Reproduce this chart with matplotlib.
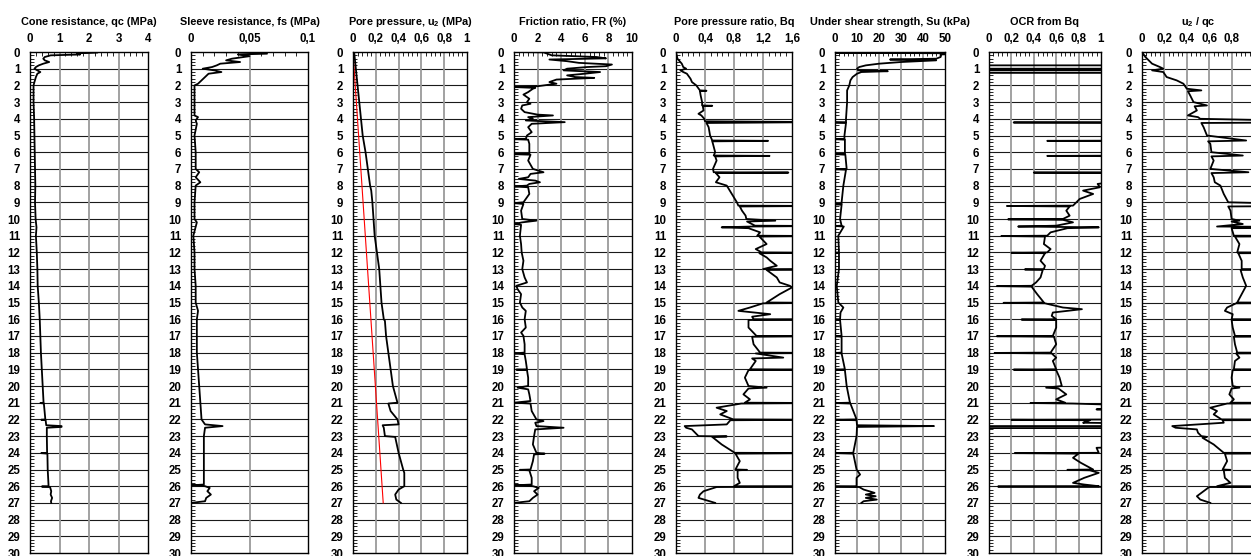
import matplotlib
matplotlib.use("Agg")
import matplotlib.pyplot as plt
from matplotlib.ticker import MultipleLocator, FuncFormatter, FixedLocator
import numpy as np

plt.rcParams['font.family'] = ['Liberation Sans', 'DejaVu Sans']
plt.rcParams['font.weight'] = 'bold'
plt.rcParams['mathtext.fontset'] = 'custom'
plt.rcParams['mathtext.rm'] = 'Liberation Sans:bold'
plt.rcParams['mathtext.bf'] = 'Liberation Sans:bold'

# ---------------- data: (depth m, value) ----------------
QC = [(0,0),(0.02,2.3),(0.08,1.6),(0.15,1.7),(0.2,0.7),(0.3,0.5),(0.4,0.45),(0.5,0.5),(0.6,0.65),
      (0.7,0.45),(0.8,0.3),(0.9,0.2),(1.0,0.15),(1.1,0.25),(1.2,0.35),(1.3,0.25),(1.5,0.2),(1.8,0.15),
      (2.0,0.12),(3.0,0.12),(4.0,0.14),(5.0,0.15),(6.0,0.16),(7.0,0.17),(8.0,0.18),(9.0,0.17),
      (10.0,0.19),(10.5,0.22),(11.0,0.2),(12.0,0.23),(13.0,0.25),(14.0,0.26),(15.0,0.3),(16.0,0.33),
      (17.0,0.35),(18.0,0.37),(19.0,0.4),(20.0,0.43),(21.0,0.46),(21.02,0.35),(21.05,0.47),(22.0,0.52),
      (22.02,0.38),(22.05,0.53),(22.35,0.55),(22.4,1.07),(22.45,1.07),(22.5,0.57),(23.0,0.57),
      (24.0,0.58),(24.02,0.38),(24.05,0.59),(25.0,0.6),(26.0,0.63),(26.02,0.4),(26.05,0.68),
      (26.3,0.72),(26.5,0.7),(26.7,0.75),(26.9,0.71),(27.0,0.72)]

FS = [(0,0),(0.02,0.05),(0.1,0.065),(0.15,0.04),(0.25,0.05),(0.4,0.035),(0.5,0.03),(0.6,0.042),
      (0.7,0.025),(0.8,0.022),(0.9,0.018),(1.0,0.01),(1.1,0.02),(1.2,0.026),(1.3,0.015),(1.5,0.012),
      (1.7,0.009),(1.9,0.006),(2.0,0.003),(3.0,0.003),(3.8,0.003),(3.9,0.006),(4.1,0.004),(4.3,0.005),
      (5.0,0.003),(6.0,0.004),(7.0,0.004),(7.2,0.007),(7.5,0.004),(7.8,0.008),(8.0,0.004),(9.0,0.003),
      (10.0,0.003),(10.2,0.005),(11.0,0.002),(12.0,0.003),(13.0,0.003),(14.0,0.004),(15.0,0.004),
      (15.5,0.006),(16.0,0.005),(17.0,0.005),(18.0,0.005),(19.0,0.006),(20.0,0.007),(21.0,0.008),
      (22.0,0.009),(22.3,0.012),(22.4,0.027),(22.5,0.012),(23.0,0.011),(24.0,0.011),(25.0,0.011),
      (25.9,0.011),(25.95,0.0),(26.0,0.012),(26.1,0.016),(26.3,0.014),(26.5,0.017),(26.7,0.013),
      (26.9,0.012),(27.0,0.0)]

U2 = [(0,0.01),(1,0.025),(2,0.04),(3,0.055),(4,0.07),(5,0.085),(6,0.11),(7,0.13),(8,0.15),(8.3,0.16),
      (9,0.17),(10,0.18),(11,0.19),(12,0.21),(13,0.23),(14,0.24),(15,0.25),(16,0.27),(16.1,0.28),
      (17,0.29),(18,0.31),(19,0.33),(20,0.35),(20.5,0.37),(21,0.39),(21.05,0.31),(21.5,0.33),(22,0.39),
      (22.3,0.40),(22.35,0.26),(22.5,0.27),(23,0.28),(23.05,0.37),(24,0.40),(25,0.44),(25.2,0.45),
      (26,0.45),(26.2,0.40),(26.5,0.37),(26.8,0.38),(27,0.42)]
U0 = [(0,0.0),(27,0.265)]

FR = [(0,0),(0.02,2.5),(0.1,2.8),(0.2,3.2),(0.3,7.0),(0.38,7.8),(0.45,3.0),(0.55,4.5),(0.65,5.5),
      (0.75,8.3),(0.85,7.8),(0.9,6.2),(1.0,4.5),(1.1,4.2),(1.2,7.3),(1.3,6.0),(1.4,4.5),(1.5,5.2),
      (1.55,6.8),(1.65,3.6),(1.8,3.0),(1.9,3.6),(2.05,2.0),(2.1,0.0),(2.15,1.8),(2.2,1.6),(2.4,1.2),
      (2.55,0.8),(2.8,1.3),(3.0,1.1),(3.1,1.4),(3.2,0.7),(3.4,0.6),(3.6,0.9),(3.75,2.0),(3.8,3.3),
      (3.9,1.2),(4.0,1.6),(4.1,1.0),(4.2,4.3),(4.3,1.5),(4.5,1.2),(4.8,1.5),(5.0,1.1),(5.2,1.0),
      (5.22,0.0),(5.25,1.2),(5.5,1.3),(6.0,1.3),(6.1,1.3),(6.12,0.0),(6.15,1.4),(6.5,1.2),(7.0,1.6),
      (7.2,2.5),(7.3,1.4),(7.5,1.2),(7.6,0.4),(7.7,1.8),(7.8,2.2),(7.9,1.3),(8.0,1.1),(8.05,0.0),
      (8.1,1.2),(8.5,1.3),(9.0,0.8),(9.05,0.0),(9.1,0.8),(9.5,0.6),(10.0,0.7),(10.1,1.9),(10.2,0.7),
      (10.3,0.0),(10.35,0.6),(11.0,0.5),(11.5,0.6),(12.0,0.65),(12.5,0.8),(13.0,0.7),(13.5,0.9),
      (13.8,1.1),(14.0,0.2),(14.2,0.3),(14.5,0.6),(15.0,0.5),(15.3,0.7),(15.5,1.0),(16.0,0.9),
      (16.5,1.0),(16.8,0.6),(17.0,0.8),(17.5,0.9),(18.0,0.9),(18.05,0.0),(18.1,0.9),(18.5,1.0),
      (19.0,1.1),(19.02,0.2),(19.05,1.1),(19.5,1.2),(20.0,1.2),(20.1,0.3),(20.2,1.2),(20.5,1.3),
      (20.9,1.4),(21.0,0.0),(21.05,1.4),(21.5,1.5),(22.0,1.9),(22.1,2.5),(22.2,1.8),(22.4,1.9),
      (22.5,4.2),(22.6,1.8),(23.0,1.7),(23.5,1.6),(24.0,1.9),(24.05,2.6),(24.1,1.7),(24.5,1.6),
      (25.0,1.4),(25.02,0.5),(25.05,1.3),(25.5,1.5),(25.9,1.5),(25.95,0.0),(26.0,1.6),(26.1,2.1),
      (26.3,1.7),(26.5,2.0),(26.7,1.6),(26.9,1.3),(27.0,0.0)]

BQ = [(0,0),(0.4,0.02),(0.7,0.08),(0.9,0.1),(1.0,0.14),(1.1,0.06),(1.2,0.1),(1.3,0.15),(1.6,0.2),
      (1.8,0.22),(2.0,0.28),(2.3,0.33),(2.32,0.42),(2.35,0.33),(2.6,0.34),(3.0,0.36),(3.2,0.36),
      (3.22,0.5),(3.25,0.37),(3.5,0.38),(3.7,0.31),(3.8,0.35),(4.0,0.39),(4.15,0.40),(4.2,2.0),
      (4.25,0.42),(4.5,0.45),(5.0,0.47),(5.3,0.5),(5.32,1.27),(5.35,0.5),(5.5,0.51),(6.0,0.54),
      (6.2,0.52),(6.22,1.29),(6.25,0.54),(6.5,0.56),(7.0,0.51),(7.2,0.52),(7.22,1.55),(7.25,0.55),
      (7.5,0.6),(7.8,0.55),(8.0,0.7),(8.5,0.77),(9.0,0.84),(9.2,0.86),(9.22,2.0),(9.25,0.88),
      (9.5,0.91),(9.8,0.96),(10.0,0.97),(10.1,1.37),(10.15,0.98),(10.4,1.09),(10.42,2.0),(10.45,1.05),
      (10.5,0.63),(10.55,1.0),(10.8,1.16),(11.0,1.12),(11.02,2.0),(11.05,1.15),(11.5,1.25),(11.8,1.1),
      (12.0,1.18),(12.02,2.0),(12.05,1.15),(12.3,1.25),(12.5,1.3),(12.8,1.39),(13.0,1.2),(13.02,2.0),
      (13.05,1.25),(13.5,1.39),(13.8,1.43),(14.0,1.57),(14.1,1.6),(14.5,1.43),(15.0,1.25),(15.02,2.0),
      (15.05,1.2),(15.3,1.02),(15.5,0.86),(15.7,1.3),(15.85,1.05),(16.0,1.07),(16.02,2.0),(16.05,1.0),
      (16.5,1.0),(17.0,1.11),(17.02,2.0),(17.05,1.05),(17.5,1.07),(18.0,1.16),(18.02,2.0),(18.05,1.1),
      (18.3,1.48),(18.35,1.05),(18.5,1.1),(19.0,1.02),(19.02,2.0),(19.05,1.0),(19.5,0.95),(20.0,1.0),
      (20.1,1.25),(20.15,1.0),(20.5,0.93),(20.8,1.02),(21.0,0.95),(21.02,2.0),(21.05,0.9),(21.3,0.56),
      (21.5,0.7),(21.7,0.61),(22.0,0.79),(22.02,2.0),(22.05,0.75),(22.3,0.7),(22.4,0.12),(22.5,0.14),
      (22.6,0.22),(23.0,0.31),(23.02,0.7),(23.05,0.5),(23.5,0.63),(24.0,0.81),(24.02,2.0),(24.05,0.82),
      (24.5,0.88),(25.0,0.82),(25.02,0.98),(25.05,0.85),(25.5,0.85),(25.8,0.88),(26.0,0.8),(26.02,2.0),
      (26.05,0.56),(26.3,0.38),(26.5,0.33),(26.7,0.31),(27.0,0.54)]

SU = [(0,0),(0.02,60),(0.05,0),(0.08,60),(0.15,48),(0.3,48),(0.4,46),(0.45,25),(0.5,46),(0.6,30),
      (0.7,20),(0.8,14),(0.9,11),(1.0,10),(1.1,10.5),(1.15,24),(1.2,12),(1.3,10),(1.5,8),(1.7,7),
      (2.0,6.5),(2.3,5.5),(3.0,5.5),(4.0,5.0),(4.2,5.0),(4.22,0),(4.25,5.0),(5.0,4.3),(5.2,4.3),
      (5.22,0),(5.25,4.5),(6.0,4.5),(6.1,4.5),(6.12,0),(6.15,4.7),(7.0,5.3),(7.02,0),(7.05,5.0),
      (8.0,3.8),(9.0,3.0),(9.1,3.0),(9.12,0),(9.15,3.0),(10.0,2.3),(10.4,3.0),(10.42,0),(10.45,4.0),
      (11.0,1.5),(12.0,1.8),(12.02,0),(12.05,1.8),(13.0,1.8),(14.0,0.8),(15.0,1.5),(15.3,3.8),
      (15.6,2.5),(16.0,2.3),(16.02,0),(16.05,2.3),(17.0,3.0),(17.02,0),(17.05,3.0),(18.0,3.0),
      (18.02,0),(18.05,3.0),(19.0,4.5),(19.02,0),(19.05,4.5),(20.0,5.3),(21.0,6.8),(21.02,0),
      (21.05,7.0),(22.0,9.8),(22.02,0),(22.05,9.8),(22.35,10),(22.4,45),(22.45,10),(23.0,9.8),
      (24.0,8.3),(24.02,0),(24.05,8.3),(25.0,9.8),(25.3,11.4),(25.5,9.8),(26.0,9.8),(26.02,0),
      (26.05,11),(26.2,13),(26.4,18),(26.5,14),(26.6,18.5),(26.7,14),(26.8,19),(26.9,13),(27.0,12)]

OCR = [(0.8,1.5),(0.8,-0.2),(1.0,-0.2),(1.0,1.5),(1.1,1.5),(1.1,-0.2),(1.25,-0.2),(1.25,1.5),
       (4.2,1.5),(4.22,0.22),(4.25,1.5),(5.3,1.5),
       (5.32,0.52),(5.35,1.5),(6.2,1.5),(6.22,0.52),(6.25,1.5),(7.2,1.5),(7.22,0.4),(7.25,1.5),
       (7.7,1.2),(7.9,0.97),(8.1,0.99),(8.3,0.84),(8.5,0.93),(8.8,0.81),(9.0,0.78),(9.2,0.75),
       (9.22,0.16),(9.25,0.72),(9.5,0.69),(9.8,0.72),(10.0,0.66),(10.02,0.17),(10.05,0.66),(10.2,0.75),
       (10.4,0.6),(10.45,0.26),(10.5,0.98),(10.55,0.7),(10.8,0.55),(11.0,0.52),(11.02,0.11),(11.05,0.5),
       (11.5,0.49),(11.8,0.55),(12.0,0.52),(12.02,0.2),(12.05,0.5),(12.5,0.46),(12.8,0.5),(13.0,0.49),
       (13.02,0.32),(13.05,0.48),(13.5,0.46),(13.8,0.42),(14.0,0.38),(14.02,0.07),(14.05,0.38),
       (14.5,0.43),(15.0,0.49),(15.02,0.13),(15.05,0.5),(15.3,0.66),(15.4,0.83),(15.6,0.57),(15.8,0.56),
       (16.0,0.6),(16.02,0.29),(16.05,0.6),(16.5,0.6),(17.0,0.57),(17.02,0.07),(17.05,0.58),(17.5,0.6),
       (18.0,0.55),(18.02,0.05),(18.05,0.56),(18.3,0.6),(18.5,0.57),(19.0,0.6),(19.02,0.22),(19.05,0.6),
       (19.5,0.63),(20.0,0.65),(20.1,0.51),(20.15,0.62),(20.5,0.69),(20.8,0.6),(21.0,0.68),(21.02,0.37),
       (21.05,0.75),(21.2,1.5),(21.35,1.5),(21.4,0.96),(21.45,1.5),(22.0,1.5),(22.02,0.2),(22.05,0.9),
       (22.1,0.88),(22.2,0.84),(22.25,1.5),(22.4,1.5),(22.4,-0.2),(22.52,-0.2),(22.52,1.5),(23.6,1.5),
       (23.7,0.96),(24.0,0.98),(24.02,0.23),(24.05,0.8),(24.3,0.75),(24.6,0.82),(25.0,0.93),(25.02,0.7),
       (25.05,0.9),(25.2,0.98),(25.5,0.85),(25.8,0.75),(25.9,0.85),(26.0,0.98),(26.02,0.08),(26.05,1.5)]

U2QC = [(0,0),(0.3,0.03),(0.5,0.06),(0.7,0.09),(0.9,0.16),(1.0,0.19),(1.1,0.09),(1.2,0.19),(1.5,0.22),
        (1.7,0.31),(1.9,0.37),(2.2,0.40),(2.3,0.53),(2.35,0.41),(2.6,0.43),(3.0,0.46),(3.2,0.58),
        (3.25,0.47),(3.5,0.49),(3.8,0.41),(3.9,0.5),(4.0,0.52),(4.2,2.0),(4.25,0.53),(4.5,0.55),
        (5.0,0.58),(5.3,0.93),(5.35,0.59),(5.5,0.61),(6.0,0.62),(6.2,0.90),(6.25,0.62),(6.5,0.64),
        (7.0,0.61),(7.2,0.95),(7.25,0.62),(7.5,0.64),(7.8,0.65),(8.0,0.70),(8.5,0.73),(9.0,0.77),
        (9.2,2.0),(9.25,0.77),(9.5,0.79),(10.0,0.80),(10.1,0.87),(10.15,0.8),(10.3,0.90),(10.45,0.67),
        (10.5,2.0),(10.55,0.8),(11.0,0.82),(11.02,2.0),(11.05,0.83),(11.5,0.87),(12.0,0.85),(12.02,2.0),
        (12.05,0.86),(12.5,0.89),(13.0,0.89),(13.02,2.0),(13.05,0.88),(13.5,0.90),(14.0,0.93),
        (14.5,0.89),(15.0,0.85),(15.02,2.0),(15.05,0.84),(15.3,0.76),(15.5,0.74),(15.7,0.81),(16.0,0.80),
        (16.02,2.0),(16.05,0.8),(16.5,0.81),(17.0,0.83),(17.02,2.0),(17.05,0.82),(17.5,0.83),(18.0,0.85),
        (18.02,2.0),(18.05,0.84),(18.3,0.87),(18.5,0.83),(19.0,0.82),(19.02,2.0),(19.05,0.81),
        (19.5,0.80),(20.0,0.81),(20.1,0.87),(20.15,0.8),(20.5,0.78),(20.8,0.82),(21.0,0.79),(21.02,2.0),
        (21.05,0.76),(21.3,0.61),(21.5,0.67),(21.7,0.64),(22.0,0.71),(22.02,2.0),(22.05,0.72),(22.2,0.73),
        (22.4,0.27),(22.5,0.3),(22.6,0.49),(22.8,0.5),(23.0,0.53),(23.05,0.58),(23.1,0.54),(23.5,0.64),
        (24.0,0.73),(24.02,2.0),(24.05,0.74),(24.5,0.76),(25.0,0.72),(25.02,0.79),(25.05,0.73),
        (25.5,0.74),(25.8,0.79),(26.0,0.67),(26.02,2.0),(26.05,0.6),(26.3,0.55),(26.6,0.49),(26.8,0.52),
        (27.0,0.61)]

titles = ["Cone resistance, qc (MPa)", "Sleeve resistance, fs (MPa)",
          r"Pore pressure, u$_\mathbf{2}$ (MPa)", "Friction ratio, FR (%)",
          "Pore pressure ratio, Bq", "Under shear strength, Su (kPa)",
          "OCR from Bq", r"u$_\mathbf{2}$ / qc"]
xmax = [4, 0.1, 1, 10, 1.6, 50, 1, 1]
xstep = [1, 0.05, 0.2, 2, 0.4, 10, 0.2, 0.2]
xminor = [0.2, 0.01, 0.04, 0.4, 0.08, 2, 0.04, 0.04]
series = [QC, FS, U2, FR, BQ, SU, OCR, U2QC]
depth_max = 30

# ---------------- layout (pixels) ----------------
W, H = 1251, 556
lefts = [30, 191, 353, 514, 676, 835, 989, 1142]
rights = [148, 308, 467, 632, 792, 945, 1101, 1254]
top_px, bot_px = 52, 553

fig = plt.figure(figsize=(W/100, H/100), dpi=100)

def fmt(v, pos):
    s = f"{v:.2f}".rstrip('0').rstrip('.')
    return s.replace('.', ',')

for i in range(8):
    ax = fig.add_axes([lefts[i]/W, (H-bot_px)/H, (rights[i]-lefts[i])/W, (bot_px-top_px)/H])
    ax.set_xlim(0, xmax[i])
    ax.set_ylim(depth_max, 0)
    for d in range(1, depth_max):
        ax.axhline(d, color='#1a1a1a', lw=0.8, zorder=1)
    xt = np.arange(0, xmax[i] + 1e-9, xstep[i])
    for x in xt[1:-1]:
        ax.axvline(x, color='#9a9a9a', lw=1.3, zorder=1)
    d, v = zip(*series[i])
    ax.plot(v, d, color='black', lw=1.3, zorder=3)
    if i == 2:
        d0, v0 = zip(*U0)
        ax.plot(v0, d0, color='red', lw=0.8, zorder=2)
    ax.xaxis.tick_top()
    ax.xaxis.set_major_locator(FixedLocator(xt))
    ax.xaxis.set_minor_locator(MultipleLocator(xminor[i]))
    ax.xaxis.set_major_formatter(FuncFormatter(fmt))
    ax.yaxis.set_major_locator(MultipleLocator(1))
    ax.yaxis.set_minor_locator(MultipleLocator(0.2))
    ax.tick_params(axis='x', which='major', direction='in', length=0, pad=5, labelsize=8.3)
    ax.tick_params(axis='x', which='minor', direction='in', length=3, width=0.6, top=True, bottom=False)
    ax.tick_params(axis='y', which='major', direction='in', length=0, pad=7, labelsize=8.3)
    ax.tick_params(axis='y', which='minor', direction='in', length=3, width=0.6, left=True)
    for lab in ax.get_xticklabels() + ax.get_yticklabels():
        lab.set_fontweight('bold')
    for sp in ax.spines.values():
        sp.set_linewidth(1.0)
        sp.set_color('black')
    ax.text(0.5, 1 + 27/(bot_px-top_px), titles[i], transform=ax.transAxes,
            ha='center', va='baseline', fontsize=7.8, fontweight='bold')

fig.savefig("out.png", dpi=100)
